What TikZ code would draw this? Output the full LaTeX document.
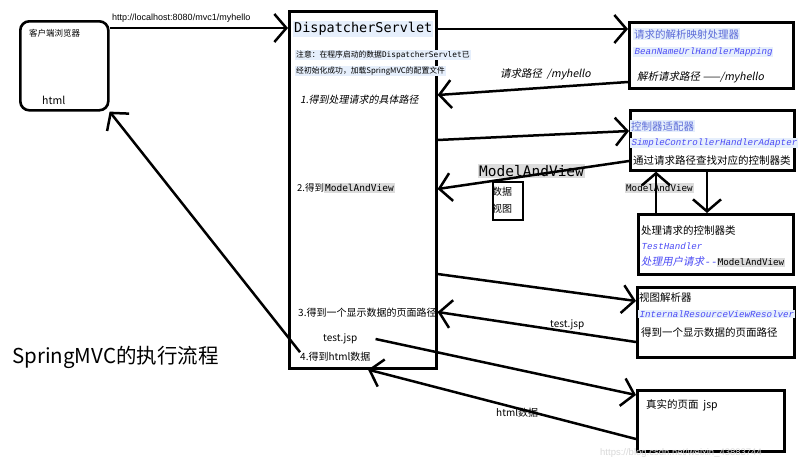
\documentclass[tikz,border=0pt]{standalone}
\usepackage{fontspec}
\setmainfont{Noto Sans CJK SC}
\setmonofont{DejaVu Sans Mono}
\newfontfamily\cjkit{Noto Sans CJK SC}[FakeSlant=0.2]
\newfontfamily\codeit{Liberation Mono}[FakeSlant=0.2]
\newfontfamily\urlfont{Liberation Sans}
\usetikzlibrary{arrows.meta}

\definecolor{hlblue}{HTML}{E6EFFC}
\definecolor{hlgray}{HTML}{DCDCDC}
\definecolor{codeblue}{HTML}{4B4BF5}
\definecolor{headblue}{HTML}{5B6BD8}
\newcommand{\fsz}[1]{\fontsize{#1}{#1}\selectfont}
\newcommand{\grayhl}[1]{{\setlength{\fboxsep}{1pt}\colorbox{hlgray}{#1}}}

\begin{document}
\begin{tikzpicture}[x=1pt, y=-1pt,
    box/.style={draw, line width=2.6pt, inner sep=0pt, anchor=north west},
    txt/.style={inner sep=0pt, anchor=west},
    hl/.style={txt, fill=hlblue, inner sep=1pt},
    code/.style={txt, text=codeblue, font=\codeit\fsz{9.2}},
    flow/.style={line width=2.5pt, -{Straight Barb[length=12pt, width=28pt]}}
]
    \fill[white] (0,0) rectangle (800,467);
    \useasboundingbox (0,0) rectangle (800,467);

    % boxes
    \node[box, rounded corners=9pt, minimum width=88pt, minimum height=89pt] (client) at (19,20) {};
    \node[box, minimum width=147pt, minimum height=357pt] (ds) at (288,10) {};
    \node[box, minimum width=164pt, minimum height=66pt] (hm) at (628,21) {};
    \node[box, minimum width=164pt, minimum height=60pt] (ad) at (629,109) {};
    \node[box, minimum width=155pt, minimum height=60pt] (hd) at (637,213) {};
    \node[box, minimum width=157pt, minimum height=70pt] (vr) at (636,286) {};
    \node[box, minimum width=147pt, minimum height=61pt] (page) at (636,389) {};
    \node[box, line width=2.2pt, minimum width=30pt, minimum height=38pt] (mav) at (492,181) {};

    % client
    \node[txt, font=\fsz{8.5}] (clientT) at (29,33) {客户端浏览器};
    \node[txt, font=\fsz{10.5}] (clientH) at (42,100) {html};

    % DispatcherServlet
    \node[hl, font=\ttfamily\fsz{13.5}] (dsT) at (293,29) {DispatcherServlet};
    \node[hl, font=\fsz{7.8}] (note1) at (295,55) {注意：在程序启动的数据{\ttfamily DispatcherServlet}已};
    \node[hl, font=\fsz{7.8}] (note2) at (295,71) {经初始化成功，加载SpringMVC的配置文件};
    \node[txt, font=\cjkit\fsz{10}] (step1) at (300,100) {1.得到处理请求的具体路径};
    \node[txt, font=\fsz{9.5}] (step2) at (297,188) {2.得到\grayhl{\ttfamily ModelAndView}};
    \node[txt, font=\fsz{10}] (step3) at (298,313) {3.得到一个显示数据的页面路径};
    \node[txt, font=\fsz{10}] (tjsp) at (323,339) {test.jsp};
    \node[txt, font=\fsz{10}] (step4) at (300,357) {4.得到html数据};

    % handler mapping
    \node[hl, text=headblue, font=\fsz{10.5}] (hmT) at (633,34) {请求的解析映射处理器};
    \node[code, fill=hlblue, inner sep=1pt] (hmC) at (633,52) {BeanNameUrlHandlerMapping};
    \node[txt, font=\cjkit\fsz{10.5}] (hmP) at (637,77) {解析请求路径 ——/myhello};

    % handler adapter
    \node[hl, text=headblue, font=\fsz{10.5}] (adT) at (630,126) {控制器适配器};
    \node[code, fill=hlblue, inner sep=1pt] (adC) at (630,143) {SimpleControllerHandlerAdapter};
    \node[txt, font=\fsz{10.5}] (adP) at (633,160) {通过请求路径查找对应的控制器类};

    % handler
    \node[txt, font=\fsz{10.5}] (hdT) at (641,230) {处理请求的控制器类};
    \node[code] (hdC) at (641,246) {TestHandler};
    \node[txt, text=codeblue, font=\cjkit\fsz{10.5}] (hdP) at (641,262) {处理用户请求{\codeit--}\textcolor{black}{\grayhl{\ttfamily\fsz{9.2}ModelAndView}}};

    % view resolver
    \node[txt, font=\fsz{10.5}] (vrT) at (639,298) {视图解析器};
    \node[code, fill=hlblue, inner sep=1pt] (vrC) at (638,314) {InternalResourceViewResolver};
    \node[txt, font=\fsz{10.5}] (vrP) at (641,332) {得到一个显示数据的页面路径};

    % real page
    \node[txt, font=\fsz{10.5}] (pageT) at (646,405) {真实的页面\ \ jsp};

    % labels on connectors
    \node[txt, font=\urlfont\fsz{9}] (urlL) at (112,18) {http://localhost:8080/mvc1/myhello};
    \node[txt, font=\cjkit\fsz{10.5}] (pathL) at (500,74) {请求路径\ \ /myhello};
    \node[txt, fill=hlgray, inner sep=1pt, font=\ttfamily\fsz{14.5}] (mavL) at (478,171) {ModelAndView};
    \node[txt, font=\fsz{10}] (mavD) at (492,192) {数据};
    \node[txt, font=\fsz{10}] (mavV) at (492,209) {视图};
    \node[txt, fill=hlgray, inner sep=1pt, font=\ttfamily\fsz{9.2}] (mavS) at (625,188) {ModelAndView};
    \node[txt, font=\fsz{10}] (jspL) at (550,325) {test.jsp};
    \node[txt, font=\fsz{10}] (htmlL) at (496,413) {html数据};
    \node[txt, text=black!15, font=\urlfont\fsz{9.5}] (mark) at (600,453) {https://blog.csdn.net/weixin\_43883744};

    \node[txt, font=\fsz{20.5}] (title) at (12,357) {SpringMVC的执行流程};

    % connectors
    \draw[flow] (client.east |- 0,28) -- (ds.west |- 0,28);
    \draw[flow] (ds.east |- 0,29) -- (hm.west |- 0,29);
    \draw[flow] (hm.west |- 0,82) -- (ds.east |- 0,95);
    \draw[flow] (ds.east |- 0,140) -- (ad.west |- 0,131);
    \draw[flow] (ad.west |- 0,161) -- (ds.east |- 0,189);
    \draw[flow] (ad.south -| 707,0) -- (hd.north -| 707,0);
    \draw[flow] (hd.north -| 656,0) -- (ad.south -| 656,0);
    \draw[flow] (ds.east |- 0,274) -- (vr.west |- 0,301);
    \draw[flow] (vr.west |- 0,342) -- (ds.east |- 0,312);
    \draw[flow] ([xshift=18pt]tjsp.east) -- (page.west |- 0,395);
    \draw[flow] (page.west |- 0,439) -- (ds.south -| 368,0);
    \draw[flow] (step4.north west) -- (client.south east);
\end{tikzpicture}
\end{document}
